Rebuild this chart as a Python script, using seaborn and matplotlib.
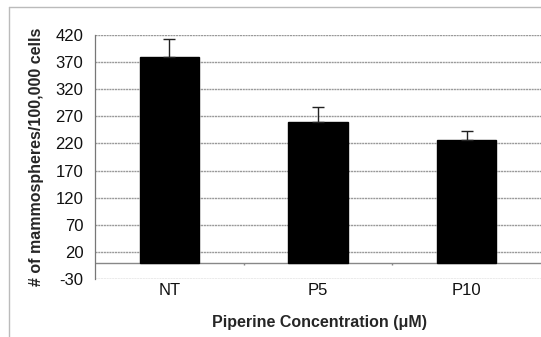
import matplotlib
matplotlib.use("Agg")
import matplotlib.pyplot as plt
import seaborn as sns
import numpy as np
from matplotlib.lines import Line2D

categories = ["NT", "P5", "P10"]
values = [380, 260, 226]
errors = [33, 27, 17]
yticks = [-30, 20, 70, 120, 170, 220, 270, 320, 370, 420]

sns.set_style("white")
plt.rcParams['font.family'] = ['Liberation Sans', 'DejaVu Sans']

W, H = 541, 337
fig = plt.figure(figsize=(W / 100, H / 100), dpi=100)
ax = fig.add_axes([95 / W, 1 - 279 / H, (W - 95) / W, (279 - 35) / H])

sns.barplot(x=categories, y=values, color="black", width=0.4, ax=ax,
            saturation=1, edgecolor="black", zorder=3)
ax.errorbar(np.arange(len(categories)), values,
            yerr=[np.zeros(len(errors)), errors], fmt="none",
            ecolor="#222222", elinewidth=1, capsize=4.5, capthick=1, zorder=4)

ax.set_xlim(-0.5, 2.5)
ax.set_ylim(-30, 420)
ax.set_yticks(yticks)
ax.set_yticklabels([str(t) for t in yticks], fontsize=12)
ax.tick_params(axis="y", length=4.3, width=0.8, color="#777777", pad=4, labelcolor="#111111")
ax.tick_params(axis="x", length=0, pad=3, labelsize=12, labelcolor="#111111")

for t in yticks:
    ax.axhline(t, color="#999999", lw=1.0, ls=(0, (1.5, 0.5)), zorder=1)
ax.axhline(0, color="#888888", lw=1.0, zorder=2)
ax.vlines([0.5, 1.5], -5, 0, color="#888888", lw=1.0, zorder=2)

for s in ["top", "right", "bottom"]:
    ax.spines[s].set_visible(False)
ax.spines["left"].set_color("#777777")
ax.spines["left"].set_linewidth(0.9)

ax.set_ylabel("# of mammospheres/100,000 cells", fontsize=11.5, fontweight="bold", labelpad=8)
ax.set_xlabel("Piperine Concentration (\u03bcM)", fontsize=11.5, fontweight="bold", labelpad=10)
ax.xaxis.set_label_coords((319 - 95) / (W - 95), -(315 - 279) / (279 - 35))

fig.add_artist(Line2D([9 / W, 9 / W], [0, 1 - 7 / H], transform=fig.transFigure, color="#bbbbbb", lw=1))
fig.add_artist(Line2D([9 / W, 1], [1 - 7 / H, 1 - 7 / H], transform=fig.transFigure, color="#bbbbbb", lw=1))

fig.savefig("out.png", dpi=100)
